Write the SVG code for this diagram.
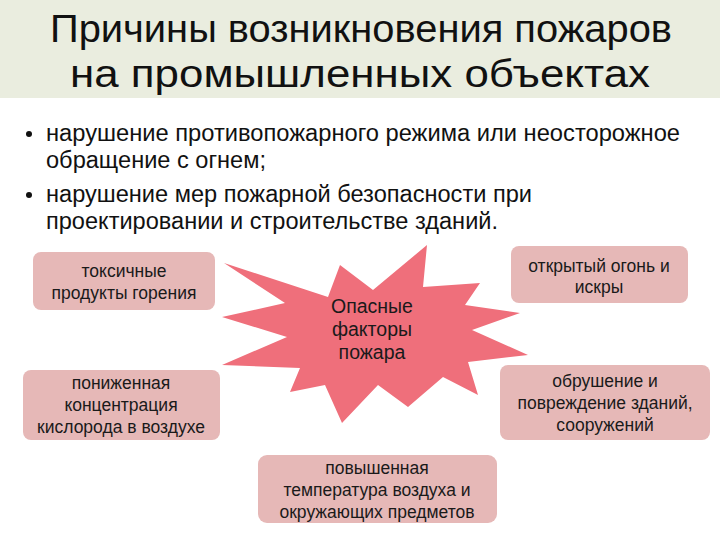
<svg xmlns="http://www.w3.org/2000/svg" width="720" height="540" viewBox="0 0 720 540">
<style>
.title{font-family:"Liberation Sans",Arial,sans-serif;font-size:38px;fill:#111;text-anchor:middle}
.bul{font-family:"Liberation Sans",Arial,sans-serif;font-size:23px;fill:#111}
.box{fill:#e6b8b7}
.bt{font-family:"Liberation Sans",Arial,sans-serif;font-size:17.5px;fill:#1a1a1a;text-anchor:middle}
.st{font-family:"Liberation Sans",Arial,sans-serif;font-size:19.5px;fill:#1a1a1a;text-anchor:middle}
</style>
<rect x="0" y="0" width="720" height="98" fill="#eaeddf"/>
<g id="title">
<text class="title" x="361" y="42" textLength="622" lengthAdjust="spacingAndGlyphs">Причины возникновения пожаров</text>
<text class="title" x="360" y="87" textLength="580" lengthAdjust="spacingAndGlyphs">на промышленных объектах</text>
</g>
<g id="bullets">
<circle cx="29" cy="134" r="3" fill="#111"/>
<text class="bul" x="46" y="141" textLength="634" lengthAdjust="spacingAndGlyphs">нарушение противопожарного режима или неосторожное</text>
<text class="bul" x="46" y="168" textLength="220" lengthAdjust="spacingAndGlyphs">обращение с огнем;</text>
<circle cx="29" cy="195" r="3" fill="#111"/>
<text class="bul" x="46" y="202" textLength="486" lengthAdjust="spacingAndGlyphs">нарушение мер пожарной безопасности при</text>
<text class="bul" x="46" y="229" textLength="452" lengthAdjust="spacingAndGlyphs">проектировании и строительстве зданий.</text>
</g>
<g id="star">
<polygon fill="#ef6f7b" points="340,265 373,290 427,245 423,287 480,283 465,305 520,313 472,330 528,355 468,362 478,395 443,377 408,407 378,385 342,423 325,385 290,392 300,368 222,365 287,337 222,317 285,303 224,263 328,297"/>
<text class="st" x="372" y="313">Опасные</text>
<text class="st" x="372" y="336">факторы</text>
<text class="st" x="372" y="359">пожара</text>
</g>
<g id="box-toxic">
<rect class="box" x="33" y="252" width="182" height="58" rx="8"/>
<text class="bt" x="124" y="277">токсичные</text>
<text class="bt" x="124" y="299">продукты горения</text>
</g>
<g id="box-oxygen">
<rect class="box" x="23" y="370" width="197" height="70" rx="8"/>
<text class="bt" x="121" y="389">пониженная</text>
<text class="bt" x="121" y="411">концентрация</text>
<text class="bt" x="121" y="433">кислорода в воздухе</text>
</g>
<g id="box-fire">
<rect class="box" x="511" y="246" width="177" height="57" rx="8"/>
<text class="bt" x="599" y="272">открытый огонь и</text>
<text class="bt" x="599" y="293">искры</text>
</g>
<g id="box-collapse">
<rect class="box" x="500" y="365" width="210" height="75" rx="8"/>
<text class="bt" x="605" y="387">обрушение и</text>
<text class="bt" x="605" y="409">повреждение зданий,</text>
<text class="bt" x="605" y="431">сооружений</text>
</g>
<g id="box-temp">
<rect class="box" x="258" y="455" width="239" height="68" rx="9"/>
<text class="bt" x="377" y="474">повышенная</text>
<text class="bt" x="377" y="496">температура воздуха и</text>
<text class="bt" x="377" y="518">окружающих предметов</text>
</g>
<g id="connectors"></g>
</svg>
